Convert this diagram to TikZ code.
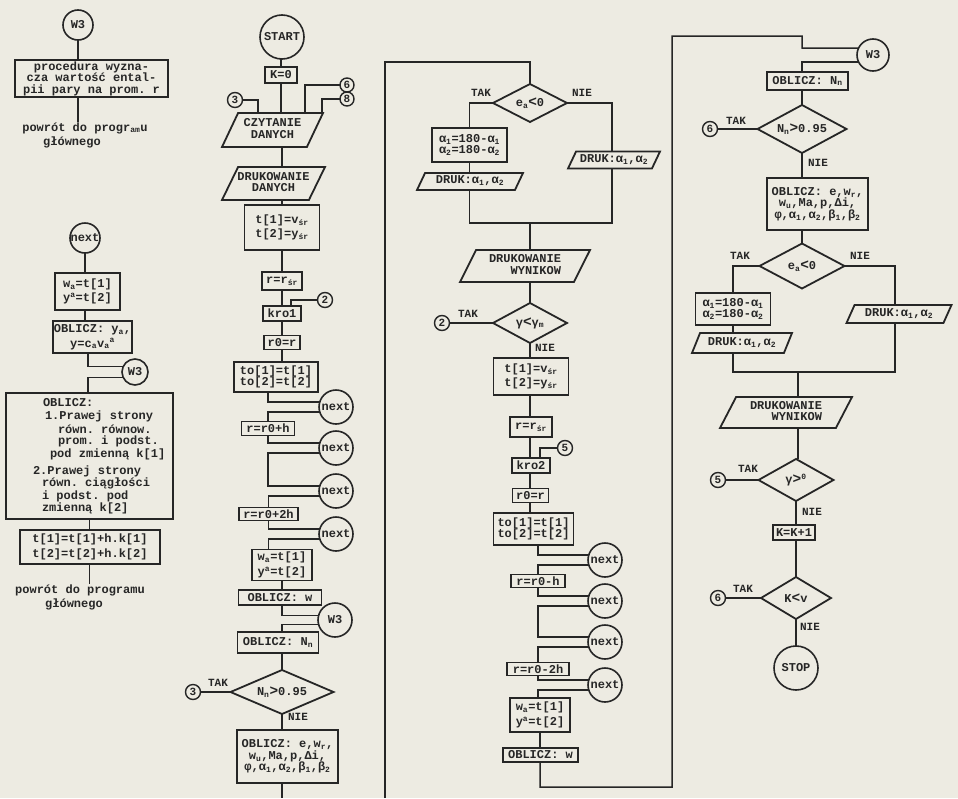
\documentclass[tikz,border=0pt]{standalone}
\usepackage{fontspec}
\setmonofont{Liberation Mono}
\usetikzlibrary{shapes.geometric}
\definecolor{paper}{RGB}{237,235,226}
\definecolor{ink}{RGB}{38,38,38}
\newcommand\lsb[1]{\textsubscript{#1}}
\newcommand\lsp[1]{\textsuperscript{#1}}
\newcommand\pzc[1]{\makebox[0pt]{\begin{tabular}{@{}c@{}}#1\end{tabular}}}
\newcommand\pzr[1]{\makebox[0pt]{\begin{tabular}{@{}r@{}}#1\end{tabular}}}
\begin{document}
\begin{tikzpicture}[x=1pt,y=-1pt,
 every node/.style={font=\ttfamily\bfseries\fontsize{12}{11.5}\selectfont,text=ink,inner sep=0pt,outer sep=0pt},
 sz/.style 2 args={minimum width=#1,minimum height=#2},
 box/.style={draw=ink,line width=1.8pt,rectangle,align=center},
 wide/.style={font=\ttfamily\bfseries\fontsize{12}{14.5}\selectfont},
 para/.style={draw=ink,line width=1.8pt,trapezium,trapezium left angle=55,trapezium right angle=125,trapezium stretches body},
 term/.style={draw=ink,line width=1.6pt,circle},
 conn/.style={draw=ink,line width=1.4pt,circle,minimum size=15,font=\ttfamily\bfseries\fontsize{11}{11}\selectfont},
 dec/.style={draw=ink,line width=1.8pt,diamond,aspect=2.3},
 lab/.style={font=\ttfamily\bfseries\fontsize{11}{11}\selectfont},
 ln/.style={draw=ink,line width=1.5pt},
]
\useasboundingbox (0,0) rectangle (958,798);
\fill[paper] (0,0) rectangle (958,798);

% ---------------- column 1 ----------------
\node[term,minimum size=30] (c1w3) at (78,25) {W3};
\node[box,sz={153}{37}] (c1proc) at (91.5,78.5) {procedura wyzna-\\cza wartość ental-\\pii pary na prom. r};
\node (c1ret1) at (85,128) {powrót do progr\lsb{am}u};
\node (c1ret1b) at (72,142) {głównego};
\draw[ln] (c1w3) -- (c1w3 |- c1proc.north);
\draw[ln] (c1w3 |- c1proc.south) -- (c1w3 |- c1ret1.north);

\node[term,minimum size=30] (c1next) at (85,238) {next};
\node[box,wide,sz={65}{37}] (c1wt) at (87.5,291.5) {w\lsb{a}=t[1]\\y\lsp{a}=t[2]};
\draw[ln] (c1next) -- (c1next |- c1wt.north);
\node[box,wide,sz={79}{32}] (c1obl) at (92.5,337) {OBLICZ: y\lsb{a},\\y=c\lsb{a}v\lsb{a}\lsp{a}};
\draw[ln] (c1next |- c1wt.south) -- (c1next |- c1obl.north);
\node[term,minimum size=26] (c1w3b) at (135,372) {W3};
\node[box,sz={167}{126}] (c1big) at (89.5,456) {};
\draw[ln] ([xshift=-4.5pt]c1obl.south) |- (c1w3b.155);
\draw[ln] (c1w3b.205) -| ([xshift=-1.5pt]c1big.north);
\node[anchor=west] (b1) at (43,403) {OBLICZ:};
\node[anchor=west] (b2) at (45,416.5) {1.Prawej strony};
\node[anchor=west] (b3) at (58,429) {równ. równow.};
\node[anchor=west] (b4) at (58,441.5) {prom. i podst.};
\node[anchor=west] (b5) at (50,454) {pod zmienną k[1]};
\node[anchor=west] (b6) at (33,471) {2.Prawej strony};
\node[anchor=west] (b7) at (42,483.5) {równ. ciągłości};
\node[anchor=west] (b8) at (42,496) {i podst. pod};
\node[anchor=west] (b9) at (42,508.5) {zmienną k[2]};
\node[box,wide,sz={140}{34}] (c1t) at (90,547) {t[1]=t[1]+h.k[1]\\t[2]=t[2]+h.k[2]};
\draw[ln] (c1big.south) -- (c1big.south |- c1t.north);
\node (c1ret2) at (80,590) {powrót do programu};
\node (c1ret2b) at (74,604) {głównego};
\draw[ln] (c1big.south |- c1t.south) -- (c1big.south |- c1ret2.north);

% ---------------- column 2 ----------------
\node[term,minimum size=44] (start) at (282,37) {START};
\node[box,sz={32}{16}] (k0) at (281,75) {K=0};
\draw[ln] (k0 |- start.south) -- (k0.north);
\node[para,sz={101}{34}] (czyt) at (272.5,130) {\pzc{CZYTANIE\\DANYCH}};
\draw[ln] (k0.south) -- (k0.south |- czyt.north);
\node[conn] (s3) at (235,100) {3};
\draw[ln] (s3) -| ([xshift=-14.5pt,yshift=17pt]czyt.center);
\node[conn,minimum size=14] (s6) at (347,85) {6};
\draw[ln] (s6) -| ([xshift=32.5pt,yshift=17pt]czyt.center);
\node[conn,minimum size=14] (s8) at (347,99) {8};
\draw[ln] (s8) -| ([xshift=49.5pt,yshift=17pt]czyt.center);
\node[para,sz={103}{33}] (drukd) at (273.5,183.5) {\pzc{DRUKOWANIE\\DANYCH}};
\node[box,wide,sz={75}{45}] (c2t) at (282,227.5) {t[1]=v\lsb{śr}\\t[2]=y\lsb{śr}};
\draw[ln] (c2t.north |- czyt.south) -- (c2t.north |- drukd.north);
\draw[ln] (c2t.north |- drukd.south) -- (c2t.north);
\node[box,sz={40}{18}] (c2rer) at (282,281) {r=r\lsb{śr}};
\draw[ln] (c2t.south) -- (c2rer.north);
\node[box,sz={38}{15}] (c2kro) at (282,313.5) {kro1};
\draw[ln] (c2rer.south) -- (c2kro.north);
\node[conn] (s2) at (325,300) {2};
\draw[ln] (s2) -| ([xshift=9pt]c2kro.north);
\node[box,sz={36}{14}] (c2roer) at (282,342.5) {r0=r};
\draw[ln] (c2kro.south) -- (c2roer.north);
\node[box,sz={84}{30}] (c2to) at (276,377) {to[1]=t[1]\\to[2]=t[2]};
\draw[ln] (c2roer.south) -- (c2roer.south |- c2to.north);
\node[term,minimum size=34] (n21) at (336,407) {next};
\draw[ln] ([xshift=-8pt]c2to.south) |- (n21.163);
\node[box,sz={53}{14}] (c2r1) at (268,428.5) {r=r0+h};
\draw[ln] (n21.197) -| (c2r1.north);
\node[term,minimum size=34] (n22) at (336,448) {next};
\draw[ln] (c2r1.south) |- (n22.163);
\node[term,minimum size=34] (n23) at (336,491) {next};
\draw[ln] (n22.197) -| (c2r1.south |- n23.163) -- (n23.163);
\node[box,sz={59}{13}] (c2r2) at (268.5,514) {r=r0+2h};
\draw[ln] (n23.197) -| (c2r2.north);
\node[term,minimum size=34] (n24) at (336,534) {next};
\draw[ln] (c2r2.south) |- (n24.163);
\node[box,wide,sz={60}{31}] (c2wt) at (282,565) {w\lsb{a}=t[1]\\y\lsp{a}=t[2]};
\draw[ln] (n24.197) -| ([xshift=-13.5pt]c2wt.north);
\node[box,sz={83}{15}] (c2ow) at (280,597.5) {OBLICZ: w};
\draw[ln] (c2wt.south) -- (c2wt.south |- c2ow.north);
\node[term,minimum size=34] (c2w3) at (335,620) {W3};
\draw[ln] (c2wt.south |- c2ow.south) |- (c2w3.165);
\node[box,sz={81}{21}] (c2on) at (278,642.5) {OBLICZ: N\lsb{n}};
\draw[ln] (c2w3.195) -| (c2wt.south |- c2on.north);
\node[dec,sz={103}{44}] (c2d) at (282,692) {N\lsb{n}{\Large>}0.95};
\draw[ln] (c2wt.south |- c2on.south) -- (c2d.north);
\node[conn] (s3b) at (193,692) {3};
\draw[ln] (c2d.west) -- (s3b);
\node[lab] (tak1) at (218,683) {TAK};
\node[lab] (nie1) at (298,717) {NIE};
\node[box,sz={101}{53}] (c2ob) at (287.5,756.5) {OBLICZ: e,w\lsb{r},\\w\lsb{u},Ma,p,Δi,\\φ,α\lsb{1},α\lsb{2},β\lsb{1},β\lsb{2}};
\draw[ln] (c2d.south) -- (c2d.south |- c2ob.north);
\coordinate (c2end) at (282,798);
\draw[ln] (c2d.south |- c2ob.south) -- (c2end);

% ---------------- column 3 ----------------
\coordinate (sepAtop) at (385,62);
\coordinate (sepAbot) at (385,798);
\node[dec,sz={74}{38}] (c3d1) at (530,103) {e\lsb{a}{\Large<}0};
\draw[ln] (sepAbot) -- (sepAtop) -| (c3d1.north);
\node[lab] (tak2) at (481,93) {TAK};
\node[lab] (nie2) at (582,93) {NIE};
\node[box,sz={75}{34}] (c3a) at (469.5,145) {α\lsb{1}=180-α\lsb{1}\\α\lsb{2}=180-α\lsb{2}};
\draw[ln] (c3d1.west) -| (c3a.north);
\node[para,sz={106}{17}] (c3dl) at (470,181.5) {\pzc{DRUK:α\lsb{1},α\lsb{2}}};
\draw[ln] (c3a.south) -- (c3a.south |- c3dl.north);
\coordinate (c3m1) at (469.5,223);
\coordinate (c3m2) at (612,223);
\node[para,sz={92}{17}] (c3dr) at (614,160) {\pzc{DRUK:α\lsb{1},α\lsb{2}}};
\draw[ln] (c3d1.east) -| (c3m2 |- c3dr.north);
\draw[ln] (c3a.south |- c3dl.south) -- (c3m1) -- (c3m2) -- (c3m2 |- c3dr.south);
\node[para,sz={130}{32}] (c3dw) at (525,266) {\pzr{DRUKOWANIE\\WYNIKOW}};
\draw[ln] (c3d1.south |- c3m1) -- (c3d1.south |- c3dw.north);
\node[dec,sz={74}{40}] (c3d2) at (530,323) {γ{\Large<}γ\lsb{m}};
\draw[ln] (c3d1.south |- c3dw.south) -- (c3d2.north);
\node[conn] (s2b) at (442,323) {2};
\draw[ln] (c3d2.west) -- (s2b);
\node[lab] (tak3) at (468,314) {TAK};
\node[lab] (nie3) at (545,348) {NIE};
\node[box,wide,sz={75}{37}] (c3t) at (531,376.5) {t[1]=v\lsb{śr}\\t[2]=y\lsb{śr}};
\draw[ln] (c3d2.south) -- (c3d2.south |- c3t.north);
\node[box,sz={42}{20}] (c3rer) at (531,427) {r=r\lsb{śr}};
\draw[ln] (c3d2.south |- c3t.south) -- (c3d2.south |- c3rer.north);
\node[box,sz={38}{15}] (c3kro) at (531,465.5) {kro2};
\draw[ln] (c3d2.south |- c3rer.south) -- (c3d2.south |- c3kro.north);
\node[conn] (s5) at (565,448) {5};
\draw[ln] (s5) -| ([xshift=9pt]c3kro.north);
\node[box,sz={36}{14}] (c3roer) at (530.5,495.5) {r0=r};
\draw[ln] (c3d2.south |- c3kro.south) -- (c3d2.south |- c3roer.north);
\node[box,sz={80}{32}] (c3to) at (533.5,529) {to[1]=t[1]\\to[2]=t[2]};
\draw[ln] (c3d2.south |- c3roer.south) -- (c3d2.south |- c3to.north);
\node[term,minimum size=34] (n31) at (605,560) {next};
\draw[ln] ([xshift=4.5pt]c3to.south) |- (n31.163);
\node[box,sz={54}{13}] (c3r1) at (538,581) {r=r0-h};
\draw[ln] (n31.197) -| (c3r1.north);
\node[term,minimum size=34] (n32) at (605,601) {next};
\draw[ln] (c3r1.south) |- (n32.163);
\node[term,minimum size=34] (n33) at (605,642) {next};
\draw[ln] (n32.197) -| (c3r1.south |- n33.163) -- (n33.163);
\node[box,sz={62}{13}] (c3r2) at (538,669) {r=r0-2h};
\draw[ln] (n33.197) -| (c3r2.north);
\node[term,minimum size=34] (n34) at (605,685) {next};
\draw[ln] (c3r2.south) |- (n34.163);
\node[box,wide,sz={60}{34}] (c3wt) at (540,715) {w\lsb{a}=t[1]\\y\lsp{a}=t[2]};
\draw[ln] (n34.197) -| ([xshift=-2pt]c3wt.north);
\node[box,sz={75}{14}] (c3ow) at (540.5,755) {OBLICZ: w};
\draw[ln] (c3wt.south) -- (c3wt.south |- c3ow.north);
\coordinate (c3b1) at (540,787);
\coordinate (sepB) at (672,787);
\coordinate (sepBtop) at (672,36);
\coordinate (c4x) at (802,48);

% ---------------- column 4 ----------------
\node[term,minimum size=32] (c4w3) at (873,55) {W3};
\draw[ln] (c3wt.south |- c3ow.south) -- (c3b1) -- (sepB) -- (sepBtop) -| (c4x) -- (c4w3.155);
\node[box,sz={81}{18}] (c4on) at (807.5,81) {OBLICZ: N\lsb{n}};
\draw[ln] (c4w3.205) -| ([xshift=-5.5pt]c4on.north);
\node[dec,sz={89}{48}] (c4d1) at (802,129) {N\lsb{n}{\Large>}0.95};
\draw[ln] ([xshift=-5.5pt]c4on.south) -- (c4d1.north);
\node[conn] (s6b) at (710,129) {6};
\draw[ln] (c4d1.west) -- (s6b);
\node[lab] (tak4) at (736,121) {TAK};
\node[lab] (nie4) at (818,163) {NIE};
\node[box,sz={101}{52}] (c4ob) at (817.5,204) {OBLICZ: e,w\lsb{r},\\w\lsb{u},Ma,p,Δi,\\φ,α\lsb{1},α\lsb{2},β\lsb{1},β\lsb{2}};
\draw[ln] (c4d1.south) -- (c4d1.south |- c4ob.north);
\node[dec,sz={85}{45}] (c4d2) at (802,266) {e\lsb{a}{\Large<}0};
\draw[ln] (c4d1.south |- c4ob.south) -- (c4d2.north);
\node[lab] (tak5) at (740,256) {TAK};
\node[lab] (nie5) at (860,256) {NIE};
\node[box,sz={75}{32}] (c4a) at (733,309) {α\lsb{1}=180-α\lsb{1}\\α\lsb{2}=180-α\lsb{2}};
\draw[ln] (c4d2.west) -| (c4a.north);
\node[para,sz={100}{20}] (c4dl) at (742,343) {\pzc{DRUK:α\lsb{1},α\lsb{2}}};
\draw[ln] (c4a.south) -- (c4a.south |- c4dl.north);
\coordinate (c4m1) at (733,372);
\coordinate (c4m2) at (895,372);
\coordinate (c4m3) at (798,372);
\node[para,sz={105}{18}] (c4dr) at (899,314) {\pzc{DRUK:α\lsb{1},α\lsb{2}}};
\draw[ln] (c4d2.east) -| (c4m2 |- c4dr.north);
\draw[ln] (c4a.south |- c4dl.south) -- (c4m1) -- (c4m2) -- (c4m2 |- c4dr.south);
\node[para,sz={132}{31}] (c4dw) at (786,412.5) {\pzr{DRUKOWANIE\\WYNIKOW}};
\draw[ln] (c4m3) -- (c4m3 |- c4dw.north);
\node[dec,sz={75}{42}] (c4d3) at (796,480) {γ{\Large>}\lsp{0}};
\draw[ln] (c4m3 |- c4dw.south) -- (c4m3 |- c4d3.north);
\node[conn] (s5b) at (718,480) {5};
\draw[ln] (c4d3.west) -- (s5b);
\node[lab] (tak6) at (748,469) {TAK};
\node[lab] (nie6) at (812,512) {NIE};
\node[box,sz={42}{15}] (c4kk) at (794,532.5) {K=K+1};
\draw[ln] (c4d3.south) -- (c4d3.south |- c4kk.north);
\node[dec,sz={70}{42}] (c4d4) at (796,598) {K{\Large<}v};
\draw[ln] (c4d3.south |- c4kk.south) -- (c4d4.north);
\node[conn] (s6c) at (718,598) {6};
\draw[ln] (c4d4.west) -- (s6c);
\node[lab] (tak7) at (743,589) {TAK};
\node[lab] (nie7) at (810,627) {NIE};
\node[term,minimum size=44] (stop) at (796,668) {STOP};
\draw[ln] (c4d4.south) -- (stop);
\end{tikzpicture}
\end{document}
